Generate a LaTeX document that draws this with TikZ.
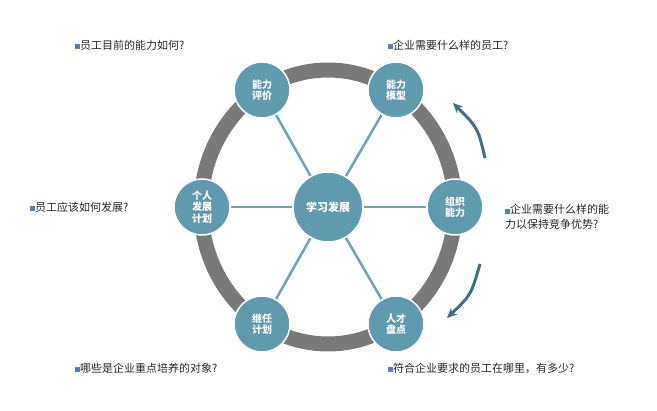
\documentclass[tikz,border=0pt]{standalone}
\usepackage{fontspec}
\usetikzlibrary{arrows.meta}
\setmainfont{Noto Sans CJK SC}
\begin{document}
\begin{tikzpicture}[x=1pt,y=-1pt,
  nd/.style={circle,fill=nodeblue,draw=white,line width=1.5pt,minimum size=56pt,inner sep=0pt,text=white,font=\fontsize{10}{11.5}\selectfont\bfseries,align=center},
  lbl/.style={anchor=west,font=\fontsize{11}{15}\selectfont,text=black!85,align=left,inner sep=0pt},
  spoke/.style={draw=nodeblue!90,line width=2.5pt},
  circ/.style={-{Stealth[length=10pt,width=9pt]},draw=arrowblue,line width=3pt}]
\definecolor{nodeblue}{HTML}{5F9AAE}
\definecolor{arrowblue}{HTML}{3F6F83}
\definecolor{bul}{HTML}{4F81BD}
\useasboundingbox (0,0) rectangle (657,411);
\fill[white] (0,0) rectangle (657,411);
\coordinate (c) at (328,207);
\draw[white,line width=18pt] (c) ellipse [x radius=127,y radius=137];
\draw[gray!95!black,line width=15pt] (c) ellipse [x radius=127,y radius=137];
\node[nd] (a) at (262,90) {能力\\评价};
\node[nd] (b) at (396,90) {能力\\模型};
\node[nd] (r) at (455,207) {组织\\能力};
\node[nd] (d) at (396,324) {人才\\盘点};
\node[nd] (e) at (262,324) {继任\\计划};
\node[nd] (l) at (202,207) {个人\\发展\\计划};
\node[nd,minimum size=70pt,font=\fontsize{11}{12}\selectfont\bfseries] (m) at (c) {学习发展};
\foreach \n in {a,b,r,d,e,l} \draw[spoke] (m) -- (\n);
\coordinate (u1) at (485,158); \coordinate (u2) at (453,103);
\coordinate (d1) at (480,264); \coordinate (d2) at (447,318);
\draw[circ] (u1) .. controls (478,128) .. (u2);
\draw[circ] (d1) .. controls (471,295) .. (d2);
\newcommand{\bx}{{\color{bul}\rule{5pt}{5pt}}}
\node[lbl] (t1) at (75,45) {\bx 员工目前的能力如何?};
\node[lbl] (t2) at (388,45) {\bx 企业需要什么样的员工?};
\node[lbl] (t3) at (30,207) {\bx 员工应该如何发展?};
\node[lbl] (t4) at (505,217) {\bx 企业需要什么样的能\\力以保持竞争优势?};
\node[lbl] (t5) at (75,368) {\bx 哪些是企业重点培养的对象?};
\node[lbl] (t6) at (388,368) {\bx 符合企业要求的员工在哪里，有多少?};
\end{tikzpicture}
\end{document}
